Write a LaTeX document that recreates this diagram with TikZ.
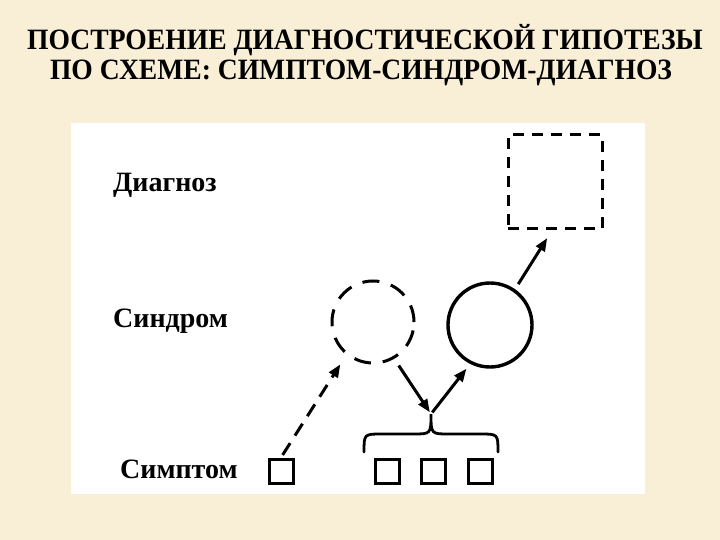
\documentclass[tikz,border=0pt]{standalone}
\usepackage{fontspec}
\setmainfont{Liberation Serif}
\usetikzlibrary{arrows.meta}
\definecolor{beige}{RGB}{249,238,214}
\tikzset{
  lbl/.style={anchor=base west, inner sep=0pt, font=\fontsize{28}{30}\selectfont\bfseries},
  ttl/.style={anchor=base, inner sep=0pt, font=\fontsize{29.5}{31}\selectfont\bfseries},
  smallsq/.style={draw, line width=3pt, minimum size=24pt, inner sep=0pt},
  dsq/.style={draw, line width=3pt, dash pattern=on 11pt off 8pt, minimum size=94pt, inner sep=0pt},
  dcirc/.style={circle, draw, line width=3pt, dash pattern=on 17pt off 12pt, minimum size=82pt, inner sep=0pt},
  scirc/.style={circle, draw, line width=3.4pt, minimum size=84pt, inner sep=0pt},
  arr/.style={line width=3pt, -{Triangle[length=13pt,width=10pt]}},
  darr/.style={arr, dash pattern=on 14pt off 9pt},
  bracestyle/.style={line width=2.8pt, line cap=round}
}
\begin{document}
\begin{tikzpicture}[x=1pt,y=-1pt]
\fill[beige] (0,0) rectangle (720,540);
\useasboundingbox (0,0) rectangle (720,540);
\fill[white] (71,123) rectangle (645,494);
% title
\node[ttl] (t1) at (365,50) {\scalebox{0.935}[1]{ПОСТРОЕНИЕ ДИАГНОСТИЧЕСКОЙ ГИПОТЕЗЫ}};
\node[ttl] (t2) at (361,80) {\scalebox{0.935}[1]{ПО СХЕМЕ: СИМПТОМ-СИНДРОМ-ДИАГНОЗ}};
% labels
\node[lbl] (ld) at (113,192) {Диагноз};
\node[lbl] (ls) at (113,327) {Синдром};
\node[lbl] (lm) at (120,478) {Симптом};
% shapes
\node[dsq] (diag) at (555,182) {};
\node[dcirc] (sd) at (373,322) {};
\node[scirc] (ss) at (490,325) {};
\node[smallsq] (s0) at (281,471) {};
\node[smallsq] (s1) at (387,471) {};
\node[smallsq] (s2) at (433,471) {};
\node[smallsq] (s3) at (480,471) {};
% brace
\coordinate (tip) at (431,414);
\coordinate (bl) at (364,452);
\coordinate (br) at (498,452);
\draw[bracestyle] (bl) .. controls (364,434) .. (382,434) -- (413,434)
  .. controls (431,434) .. (tip) .. controls (431,434) .. (449,434) -- (480,434)
  .. controls (498,434) .. (br);
% connectors
\draw[darr, shorten <=3pt, shorten >=11pt] (s0.north) -- (sd.231);
\draw[arr, shorten <=8pt, shorten >=2pt] (sd.300) -- (tip);
\draw[arr, shorten <=2pt, shorten >=6pt] (tip) -- (ss.243);
\draw[arr, shorten <=6pt, shorten >=9pt] (ss.55) -- ([xshift=-3pt]diag.south);
\end{tikzpicture}
\end{document}
